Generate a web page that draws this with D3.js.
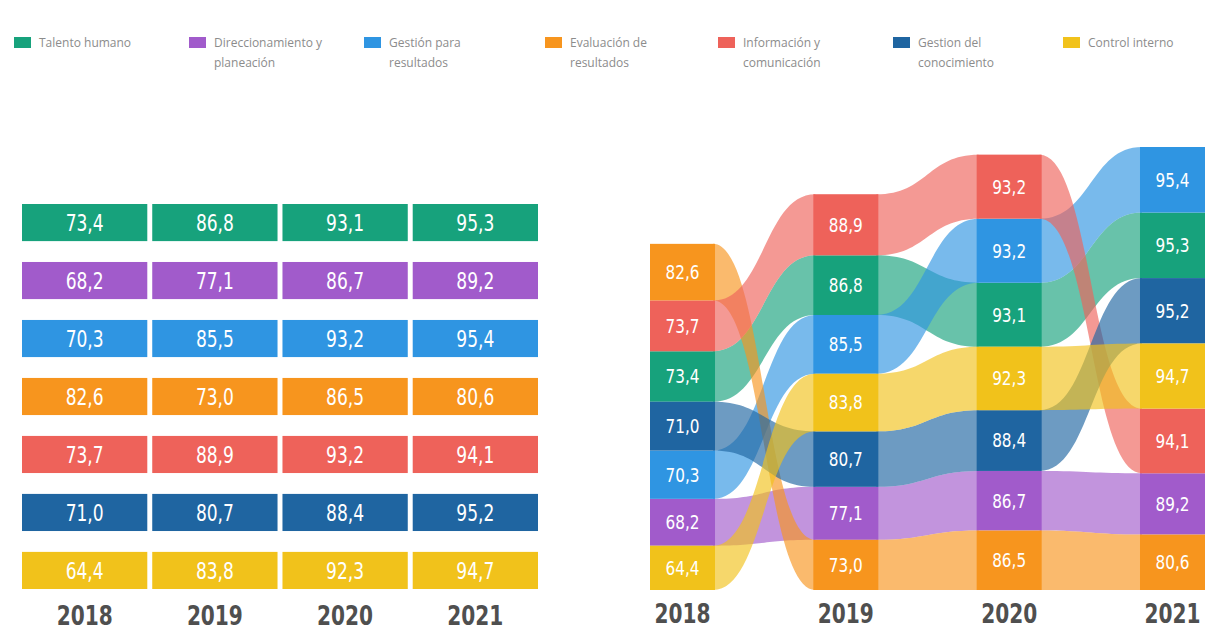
<!DOCTYPE html>
<html>
  <head>
    <meta charset="utf-8">
    <script src="https://d3js.org/d3.v7.min.js"></script>
    <style>
      body { margin: 0; background: #fff; }
      svg text { font-family: "DejaVu Sans Condensed", "Liberation Sans Narrow", sans-serif; }
    </style>
  </head>
  <body>
    <svg width="1211" height="632"></svg>
    <script>
      // data
      var years = ["2018", "2019", "2020", "2021"];
      var categories = [
        "Talento humano",
        "Direccionamiento y planeación",
        "Gestión para resultados",
        "Evaluación de resultados",
        "Información y comunicación",
        "Gestion del conocimiento",
        "Control interno"
      ];
      var legendLines = [
        ["Talento humano"],
        ["Direccionamiento y", "planeación"],
        ["Gestión para", "resultados"],
        ["Evaluación de", "resultados"],
        ["Información y", "comunicación"],
        ["Gestion del", "conocimiento"],
        ["Control interno"]
      ];
      var talentoHumano = [73.4, 86.8, 93.1, 95.3];
      var direccionamiento = [68.2, 77.1, 86.7, 89.2];
      var gestionResultados = [70.3, 85.5, 93.2, 95.4];
      var evaluacion = [82.6, 73.0, 86.5, 80.6];
      var informacion = [73.7, 88.9, 93.2, 94.1];
      var gestionConocimiento = [71.0, 80.7, 88.4, 95.2];
      var controlInterno = [64.4, 83.8, 92.3, 94.7];
      var series = [talentoHumano, direccionamiento, gestionResultados, evaluacion,
                    informacion, gestionConocimiento, controlInterno];
      var colors = ["#17a27c", "#a15bcb", "#2f95e2", "#f7951e", "#ee625a", "#1f65a1", "#f1c21b"];

      var svg = d3.select("svg");
      var fmt = function (v) { return v.toFixed(1).replace(".", ","); };

      // legend
      var legendX = [14, 189, 364, 545, 718, 893, 1063];
      var lg = svg.append("g");
      categories.forEach(function (c, i) {
        lg.append("rect")
          .attr("x", legendX[i]).attr("y", 37)
          .attr("width", 17).attr("height", 11)
          .attr("fill", colors[i]);
        var t = lg.append("text")
          .attr("x", legendX[i] + 25).attr("y", 47)
          .style("font-family", "'Open Sans', sans-serif")
          .style("font-size", "12px")
          .attr("fill", "#8c8c8c");
        legendLines[i].forEach(function (l, j) {
          t.append("tspan").attr("x", legendX[i] + 25).attr("dy", j === 0 ? 0 : 20).text(l);
        });
      });

      // left table
      var xTable = d3.scaleBand().domain(years).range([22, 538]).paddingInner(0.038);
      var yTable = d3.scaleBand().domain(categories).range([204, 589]).paddingInner(0.36);

      var rows = svg.append("g").selectAll("g")
        .data(categories)
        .enter().append("g");

      rows.each(function (c, i) {
        var row = d3.select(this);
        row.selectAll("rect")
          .data(series[i])
          .enter().append("rect")
          .attr("x", function (d, j) { return xTable(years[j]); })
          .attr("y", yTable(c))
          .attr("width", xTable.bandwidth())
          .attr("height", yTable.bandwidth())
          .attr("fill", colors[i]);
        row.selectAll("text")
          .data(series[i])
          .enter().append("text")
          .attr("x", function (d, j) { return xTable(years[j]) + xTable.bandwidth() / 2; })
          .attr("y", yTable(c) + yTable.bandwidth() / 2)
          .attr("dy", "0.36em")
          .attr("text-anchor", "middle")
          .attr("fill", "#fff")
          .attr("textLength", 38)
          .attr("lengthAdjust", "spacingAndGlyphs")
          .style("font-size", "23px")
          .text(fmt);
      });

      svg.append("g").selectAll("text")
        .data(years)
        .enter().append("text")
        .attr("x", function (d) { return xTable(d) + xTable.bandwidth() / 2; })
        .attr("y", 625)
        .attr("text-anchor", "middle")
        .attr("fill", "#4f4f4f")
        .attr("textLength", 56)
        .attr("lengthAdjust", "spacingAndGlyphs")
        .style("font-size", "26px")
        .style("font-weight", "bold")
        .text(function (d) { return d; });

      // right bump / stacked ranking chart
      var xBump = d3.scaleBand().domain(years).range([650, 1205]).paddingInner(0.602);
      var yBump = d3.scaleLinear().domain([0, 644.5]).range([590, 147]);

      // stack each year: ascending values from the bottom
      var blocks = years.map(function (y, j) {
        var order = d3.range(categories.length).sort(function (a, b) {
          return series[a][j] - series[b][j];
        });
        var cum = 0, out = [];
        order.forEach(function (k) {
          out[k] = { y0: cum, y1: cum + series[k][j], v: series[k][j] };
          cum += series[k][j];
        });
        return out;
      });

      var ribbons = svg.append("g");
      categories.forEach(function (c, i) {
        for (var j = 0; j < years.length - 1; j++) {
          var a = blocks[j][i], b = blocks[j + 1][i];
          var x0 = xBump(years[j]) + xBump.bandwidth() - 2;
          var x1 = xBump(years[j + 1]) + 2;
          var xm = (x0 + x1) / 2;
          var p = d3.path();
          p.moveTo(x0, yBump(a.y1));
          p.bezierCurveTo(xm, yBump(a.y1), xm, yBump(b.y1), x1, yBump(b.y1));
          p.lineTo(x1, yBump(b.y0));
          p.bezierCurveTo(xm, yBump(b.y0), xm, yBump(a.y0), x0, yBump(a.y0));
          p.closePath();
          ribbons.append("path")
            .attr("d", p.toString())
            .attr("fill", colors[i])
            .attr("fill-opacity", 0.65);
        }
      });

      var bumpBlocks = svg.append("g");
      years.forEach(function (y, j) {
        categories.forEach(function (c, i) {
          var b = blocks[j][i];
          bumpBlocks.append("rect")
            .attr("x", xBump(y))
            .attr("y", yBump(b.y1))
            .attr("width", xBump.bandwidth())
            .attr("height", yBump(b.y0) - yBump(b.y1))
            .attr("fill", colors[i]);
          bumpBlocks.append("text")
            .attr("x", xBump(y) + xBump.bandwidth() / 2)
            .attr("y", (yBump(b.y0) + yBump(b.y1)) / 2)
            .attr("dy", "0.36em")
            .attr("text-anchor", "middle")
            .attr("fill", "#fff")
            .attr("textLength", 34)
            .attr("lengthAdjust", "spacingAndGlyphs")
            .style("font-size", "19px")
            .text(fmt(b.v));
        });
      });

      svg.append("g").selectAll("text")
        .data(years)
        .enter().append("text")
        .attr("x", function (d) { return xBump(d) + xBump.bandwidth() / 2; })
        .attr("y", 623)
        .attr("text-anchor", "middle")
        .attr("fill", "#4f4f4f")
        .attr("textLength", 56)
        .attr("lengthAdjust", "spacingAndGlyphs")
        .style("font-size", "26px")
        .style("font-weight", "bold")
        .text(function (d) { return d; });
    </script>
  </body>
</html>
